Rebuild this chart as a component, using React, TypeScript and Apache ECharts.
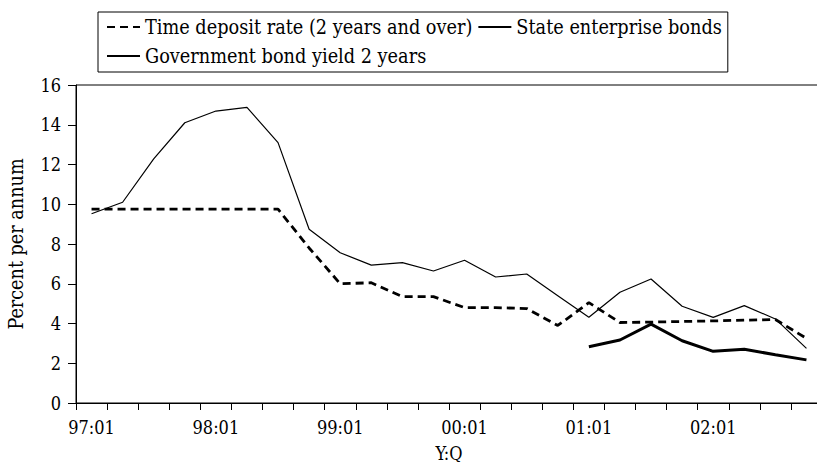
import React, { useEffect, useRef } from "react";
import * as echarts from "echarts";

const categories = [
  "97:01", "97:02", "97:03", "97:04",
  "98:01", "98:02", "98:03", "98:04",
  "99:01", "99:02", "99:03", "99:04",
  "00:01", "00:02", "00:03", "00:04",
  "01:01", "01:02", "01:03", "01:04",
  "02:01", "02:02", "02:03", "02:04",
];

const timeDeposit = [
  9.75, 9.75, 9.75, 9.75, 9.75, 9.75, 9.75, 7.8,
  6.0, 6.05, 5.35, 5.35, 4.8, 4.8, 4.75, 3.9,
  5.05, 4.05, 4.07, 4.1, 4.13, 4.17, 4.2, 3.25,
];

const stateEnterprise = [
  9.52, 10.1, 12.28, 14.1, 14.69, 14.87, 13.1, 8.74,
  7.56, 6.94, 7.06, 6.64, 7.18, 6.34, 6.49, 5.4,
  4.31, 5.57, 6.24, 4.87, 4.31, 4.9, 4.23, 2.75,
];

const govBond = [
  null, null, null, null, null, null, null, null,
  null, null, null, null, null, null, null, null,
  2.83, 3.17, 3.97, 3.13, 2.6, 2.7, 2.43, 2.17,
];

const FONT = "DejaVu Serif Condensed";

export default function App() {
  const ref = useRef<HTMLDivElement>(null);
  useEffect(() => {
    document.body.style.margin = "0";
    const chart = echarts.init(ref.current!, undefined, { renderer: "svg" });
    chart.setOption({
      animation: false,
      textStyle: { fontFamily: FONT, color: "#000" },
      legend: {
        left: 98,
        top: 12,
        width: 680,
        padding: [3, 6, 4, 8],
        itemGap: 5,
        itemWidth: 33,
        itemHeight: 14,
        borderColor: "#000",
        borderWidth: 1,
        itemStyle: { color: "transparent", borderColor: "transparent", borderWidth: 0 },
        textStyle: { fontFamily: FONT, fontSize: 19.7, color: "#000", lineHeight: 24 },
        data: [
          "Time deposit rate (2 years and over)",
          "State enterprise bonds",
          "Government bond yield 2 years",
        ],
      },
      grid: {
        left: 76,
        top: 85,
        width: 746,
        height: 318,
        outerBoundsMode: "none",
        containLabel: false,
        show: true,
        borderColor: "#000",
        borderWidth: 1,
        backgroundColor: "transparent",
      },
      xAxis: {
        type: "category",
        data: categories,
        boundaryGap: true,
        name: "Y:Q",
        nameLocation: "middle",
        nameGap: 41,
        nameTextStyle: { fontFamily: FONT, fontSize: 18, color: "#000" },
        axisLine: { show: true, lineStyle: { color: "#000", width: 1 } },
        axisTick: { show: true, interval: 0, length: 7, lineStyle: { color: "#000" } },
        axisLabel: {
          interval: 3,
          margin: 15,
          fontFamily: FONT,
          fontSize: 18,
          color: "#000",
        },
        splitLine: { show: false },
      },
      yAxis: {
        type: "value",
        min: 0,
        max: 16,
        interval: 2,
        name: "Percent per annum",
        nameLocation: "middle",
        nameGap: 50,
        nameTextStyle: { fontFamily: FONT, fontSize: 19.6, color: "#000" },
        axisLine: { show: true, lineStyle: { color: "#000", width: 1 } },
        axisTick: { show: true, length: 8, lineStyle: { color: "#000" } },
        axisLabel: { margin: 15, fontFamily: FONT, fontSize: 18, color: "#000" },
        splitLine: { show: false },
      },
      series: [
        {
          name: "Time deposit rate (2 years and over)",
          type: "line",
          data: timeDeposit,
          symbol: "none",
          showSymbol: false,
          lineStyle: { color: "#000", width: 2.8, type: [8, 5] },
          itemStyle: { color: "#000" },
        },
        {
          name: "State enterprise bonds",
          type: "line",
          data: stateEnterprise,
          symbol: "none",
          showSymbol: false,
          lineStyle: { color: "#000", width: 1.2 },
          itemStyle: { color: "#000" },
        },
        {
          name: "Government bond yield 2 years",
          type: "line",
          data: govBond,
          symbol: "none",
          showSymbol: false,
          connectNulls: false,
          lineStyle: { color: "#000", width: 3 },
          itemStyle: { color: "#000" },
        },
      ],
    });
    return () => chart.dispose();
  }, []);
  return (
    <div
      ref={ref}
      style={{ width: 817, height: 462, overflow: "hidden", background: "#fff" }}
    />
  );
}
